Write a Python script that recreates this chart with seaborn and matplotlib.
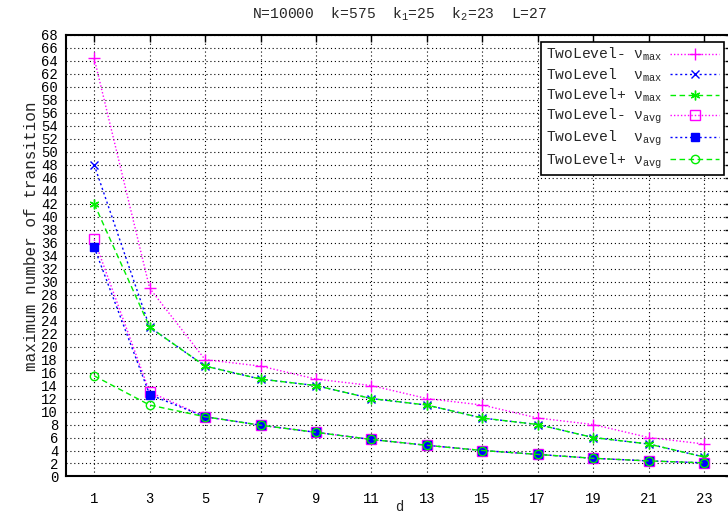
import matplotlib
matplotlib.use("Agg")
import matplotlib.pyplot as plt
import seaborn as sns
import numpy as np

d = [1, 3, 5, 7, 9, 11, 13, 15, 17, 19, 21, 23]
tl_minus_max = [64.4, 29, 18, 17, 15, 14, 12, 11, 9, 8, 6, 5]
tl_max = [48, 23, 17, 15, 14, 12, 11, 9, 8, 6, 5, 3]
tl_plus_max = [42, 23, 17, 15, 14, 12, 11, 9, 8, 6, 5, 3]
tl_minus_avg = [36.5, 13.0, 9.2, 7.9, 6.8, 5.7, 4.8, 4.0, 3.4, 2.8, 2.4, 2.1]
tl_avg = [35.3, 12.6, 9.2, 7.9, 6.8, 5.7, 4.8, 4.0, 3.4, 2.8, 2.4, 2.1]
tl_plus_avg = [15.5, 11.0, 9.2, 7.9, 6.8, 5.7, 4.8, 4.0, 3.4, 2.8, 2.4, 2.1]

labels = [
    "TwoLevel- ν$_{max}$",
    "TwoLevel  ν$_{max}$",
    "TwoLevel+ ν$_{max}$",
    "TwoLevel- ν$_{avg}$",
    "TwoLevel  ν$_{avg}$",
    "TwoLevel+ ν$_{avg}$",
]

sns.set_theme(style="white")
plt.rcParams['font.family'] = ['Liberation Mono', 'DejaVu Sans']
plt.rcParams['mathtext.default'] = 'regular'

fig = plt.figure(figsize=(7.28, 5.13), dpi=100)
ax = fig.add_axes([0.0913, 0.0712, 0.914, 0.8606])

MAG = '#ff00ff'
BLU = '#0000ff'
GRN = '#00ee00'

series = [
    (tl_minus_max, MAG, (0, (1, 1.5)), '+', 'full', 8),
    (tl_max, BLU, (0, (1.5, 2)), 'x', 'full', 6),
    (tl_plus_max, GRN, (0, (4, 2.5)), (6, 2, 0), 'full', 7),
    (tl_minus_avg, MAG, (0, (1, 1.5)), 's', 'none', 7),
    (tl_avg, BLU, (0, (1.5, 2)), 's', 'full', 6),
    (tl_plus_avg, GRN, (0, (4, 2.5)), 'o', 'none', 6),
]

for (vals, col, ls, mk, fill, ms), lab in zip(series, labels):
    sns.lineplot(x=d, y=vals, ax=ax, color=col, linestyle=ls, linewidth=1.0,
                 marker=mk, markersize=ms, fillstyle=fill,
                 markeredgecolor=col, markerfacecolor=(col if fill == 'full' else 'none'),
                 markeredgewidth=1.0, label=lab)

ax.set_xlim(0, 24)
ax.set_ylim(0, 68)
ax.set_xticks(d)
ax.set_yticks(np.arange(0, 69, 2))
ax.grid(True, color='black', linestyle=(0, (1, 2.5)), linewidth=0.8)
ax.tick_params(direction='in', length=5, width=1, top=True, right=True,
               labelsize=10, colors='black')
ax.tick_params(axis='x', pad=11)
ax.tick_params(axis='y', pad=6)
for s in ax.spines.values():
    s.set_color('black')
    s.set_linewidth(1.5)

ax.set_title("N=10000  k=575  k$_1$=25  k$_2$=23  L=27", fontsize=10.5, pad=12)
ax.set_ylabel("maximum number of transition", fontsize=11.5)
ax.yaxis.set_label_coords(-0.042, 0.545)
ax.set_xlabel("d", fontsize=10)
ax.xaxis.set_label_coords(0.5, -0.053)

leg = ax.legend(loc='upper right', bbox_to_anchor=(0.9877, 0.985), markerfirst=False,
                fontsize=10.5, frameon=True, fancybox=False, framealpha=1,
                edgecolor='black', handlelength=3.4, borderpad=0.3,
                labelspacing=0.2, handletextpad=0.5, borderaxespad=0)
leg.get_frame().set_linewidth(1.2)

fig.savefig("out.png", dpi=100)
